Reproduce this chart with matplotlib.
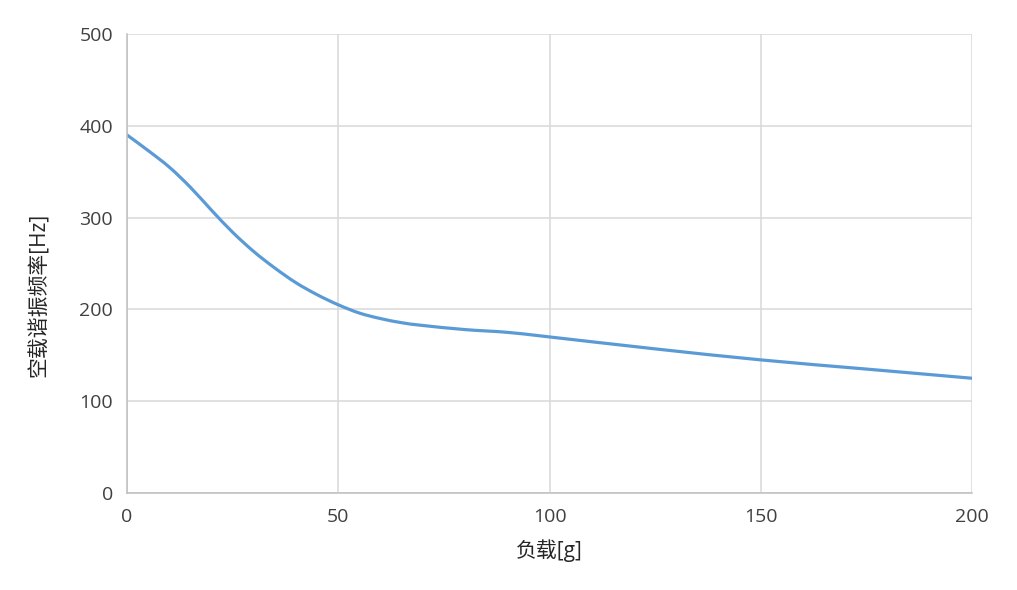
import numpy as np
import matplotlib.pyplot as plt
from matplotlib.path import Path
from matplotlib.patches import PathPatch

plt.rcParams['font.family'] = ['Open Sans', 'Noto Sans CJK SC', 'DejaVu Sans']

# 负载 [g] vs 空载谐振频率 [Hz]
load_g = [0, 5, 10, 15, 20, 25, 30, 35, 40, 45, 50, 55, 60, 65, 70, 80, 90, 100, 125, 150, 175, 200]
freq_hz = [390, 373, 355, 333, 308, 284, 263, 245, 229, 216, 205, 196, 190, 185.5, 182.5, 178, 175, 170, 157, 145, 135, 125]

x_ticks = [0, 50, 100, 150, 200]
y_ticks = [0, 100, 200, 300, 400, 500]


def smooth_path(xs, ys):
    # Excel 风格的平滑线: Catmull-Rom 转三次 Bezier
    p = np.column_stack([xs, ys]).astype(float)
    n = len(p)
    ext = np.vstack([2 * p[0] - p[1], p, 2 * p[-1] - p[-2]])
    verts = [p[0]]
    codes = [Path.MOVETO]
    for i in range(1, n):
        a, b, c, d = ext[i - 1], ext[i], ext[i + 1], ext[i + 2]
        verts += [b + (c - a) / 6, c - (d - b) / 6, c]
        codes += [Path.CURVE4] * 3
    return Path(verts, codes)


fig = plt.figure(figsize=(10.17, 5.90), dpi=100)
ax = fig.add_axes([0.1249, 0.1644, 0.8309, 0.7780])

ax.add_patch(PathPatch(smooth_path(load_g, freq_hz), fill=False,
                       edgecolor="#5b9bd5", lw=2.3, capstyle="round", joinstyle="round"))

ax.set_xlim(0, 200)
ax.set_ylim(0, 500)
ax.set_xticks(x_ticks)
ax.set_yticks(y_ticks)
ax.grid(True, color="#d9d9d9", lw=1.1)
ax.set_axisbelow(True)

for side in ["top", "right"]:
    ax.spines[side].set_visible(False)
for side in ["left", "bottom"]:
    ax.spines[side].set_color("#bfbfbf")
    ax.spines[side].set_linewidth(1.1)

ax.tick_params(length=0, labelsize=14, labelcolor="#404040")
ax.tick_params(axis="x", pad=11)
ax.tick_params(axis="y", pad=10)
ax.set_xlabel("负载[g]", fontsize=15, color="#262626", labelpad=9)
ax.set_ylabel("空载谐振频率[Hz]", fontsize=15, color="#262626")
ax.yaxis.set_label_coords(-0.091, 0.431)

fig.savefig("out.png", dpi=100)
